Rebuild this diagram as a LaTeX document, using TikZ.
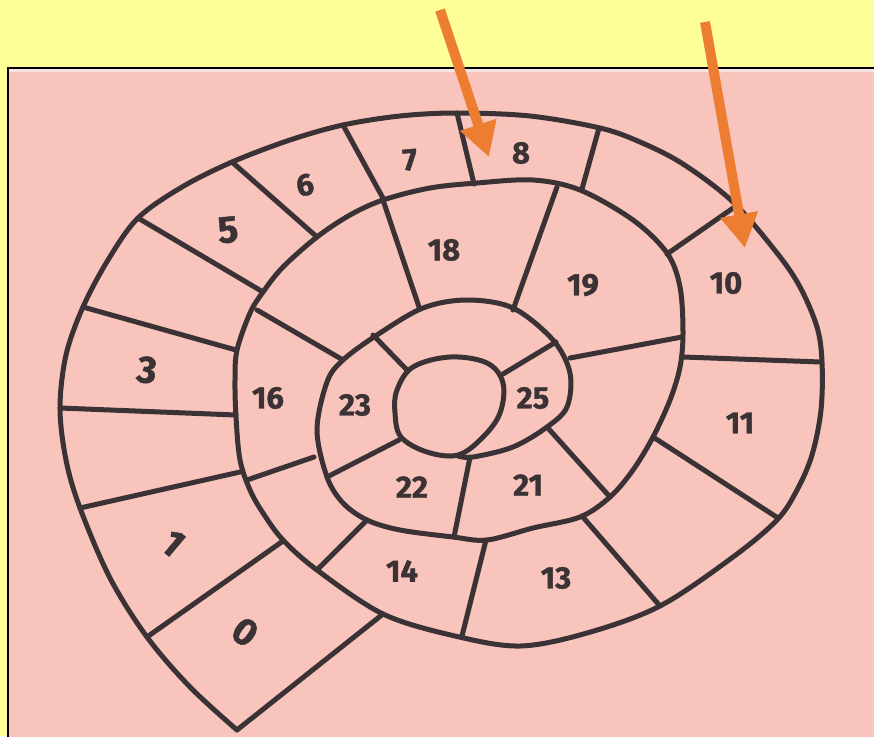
\documentclass[tikz,border=0pt]{standalone}
\usepackage{fontspec}
\setsansfont[BoldFeatures={FakeBold=1.2}]{Fira Sans}
\usetikzlibrary{arrows.meta}
\definecolor{bgyellow}{HTML}{FFFF99}
\definecolor{paper}{HTML}{F8C4BC}
\definecolor{paperedge}{HTML}{F4E4E2}
\definecolor{ink}{HTML}{3A3235}
\definecolor{arroworange}{HTML}{ED7D31}
\tikzset{
  inkline/.style={draw=ink, line width=5pt, line cap=round, line join=round},
  lab/.style={font=\sffamily\bfseries\fontsize{31}{31}\selectfont, text=ink, inner sep=0pt},
  biglab/.style={font=\sffamily\bfseries\fontsize{38}{38}\selectfont, text=ink, inner sep=0pt},
  pointer/.style={draw=arroworange, line width=10pt, -{Triangle[width=36pt,length=34pt]}, fill=arroworange}
}
\begin{document}
\begin{tikzpicture}[x=1pt,y=-1pt]
\useasboundingbox (0,0) rectangle (874,736);
\fill[bgyellow] (0,0) rectangle (874,736);
\fill[paper] (8,68) rectangle (880,745);
\fill[paperedge] (9,69) rectangle (880,72);
\draw[black, line width=1.6pt] (8,745) -- (8,68) -- (880,68);

% spiral line
\draw[inkline] plot[smooth, tension=0.55] coordinates {
 (237,730) (190,687) (147,637) (110,578) (80,508) (66,460) (60,408) (66,355) (83,307)
 (108,260) (138,218) (182,187) (232,162) (290,140) (343,125) (400,116) (457,113)
 (530,116) (600,128) (640,142) (683,164) (733,202) (777,253) (800,287) (817,327)
 (822,362) (821,410) (812,455) (797,490) (777,520) (733,557) (660,606) (587,633)
 (520,646) (455,636) (383,614) (317,570) (283,540) (263,513) (250,490) (240,460)
 (236,417) (235,380) (237,350) (250,313) (263,292) (283,267) (317,237) (350,215)
 (383,200) (430,188) (477,183) (533,180) (580,190) (633,220) (667,253) (680,287)
 (683,333) (680,367) (670,400) (653,437) (633,470) (610,497) (580,517) (533,528)
 (487,540) (453,537) (400,530) (367,520) (343,503) (327,477) (317,430) (327,382)
 (343,360) (377,335) (423,308) (467,300) (513,308) (553,340) (570,373) (567,407)
 (547,427) (513,447) (473,457) (458,456)};

% central loop
\draw[inkline] plot[smooth cycle, tension=0.6] coordinates {
 (458,455) (427,452) (401,437) (395,413) (397,390) (413,367) (450,357) (487,363)
 (503,383) (500,413) (483,437)};

% separators of the outer lap
\draw[inkline] (237,730) -- (383,614);
\draw[inkline] (147,637) -- (283,541);
\draw[inkline] (80,508) -- (240,472);
\draw[inkline] (60,408) -- (236,415);
\draw[inkline] (83,307) -- (236,350);
\draw[inkline] (138,218) -- (263,292);
\draw[inkline] (232,162) -- (317,237);
\draw[inkline] (343,125) -- (384,200);
\draw[inkline] (457,113) -- (474,184);
\draw[inkline] (599,128) -- (582,189);
\draw[inkline] (736,206) -- (667,254);
\draw[inkline] (683,357) -- (821,362);
\draw[inkline] (653,437) -- (778,518);
\draw[inkline] (582,516) -- (660,606);
\draw[inkline] (486,540) -- (462,636);
% separators of the second lap
\draw[inkline] (317,570) -- (367,520);
\draw[inkline] (247,480) -- (314,457);
\draw[inkline] (257,310) -- (343,360);
\draw[inkline] (383,200) -- (419,307);
\draw[inkline] (557,187) -- (513,310);
\draw[inkline] (570,358) -- (682,337);
\draw[inkline] (547,427) -- (610,497);
% separators of the third lap
\draw[inkline] (470,457) -- (454,537);
\draw[inkline] (327,477) -- (399,440);
\draw[inkline] (373,335) -- (407,370);
\draw[inkline] (503,374) -- (556,342);

% numbers
\node[biglab, rotate=-35] (l0) at (245,632) {0};
\node[biglab, rotate=-40] (l1) at (173,543) {1};
\node[biglab, rotate=-8] (l3) at (147,370) {3};
\node[biglab, rotate=5] (l5) at (228,230) {5};
\node[lab, rotate=10] (l6) at (305,185) {6};
\node[lab, rotate=5] (l7) at (410,160) {7};
\node[lab] (l8) at (521,153) {8};
\node[lab] (l10) at (726,283) {10};
\node[lab] (l11) at (740,423) {11};
\node[lab] (l13) at (556,578) {13};
\node[lab] (l14) at (402,571) {14};
\node[lab] (l16) at (268,398) {16};
\node[lab] (l18) at (444,250) {18};
\node[lab] (l19) at (583,285) {19};
\node[lab] (l21) at (528,485) {21};
\node[lab] (l22) at (412,487) {22};
\node[lab] (l23) at (355,405) {23};
\node[lab] (l25) at (533,398) {25};

% orange arrows
\coordinate (a1s) at (440,10);
\coordinate (a1e) at (489,157);
\coordinate (a2s) at (705,22);
\coordinate (a2e) at (745,248);
\draw[pointer] (a1s) -- (a1e);
\draw[pointer] (a2s) -- (a2e);
\end{tikzpicture}
\end{document}
